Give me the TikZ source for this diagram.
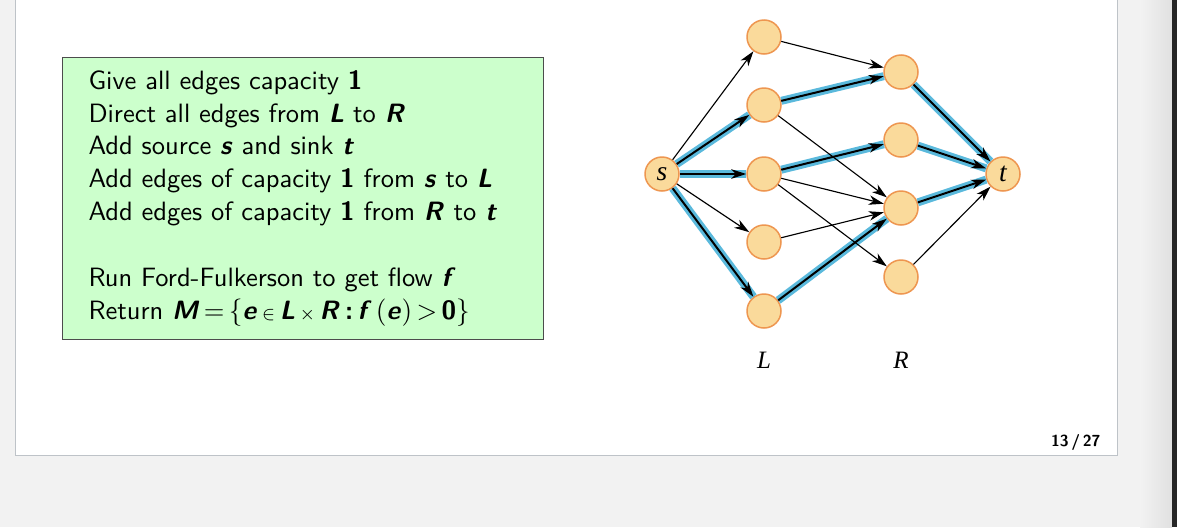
\documentclass[tikz,border=0pt]{standalone}
\usepackage{fontspec}
\newfontfamily\figfont{Liberation Serif}
\usetikzlibrary{arrows.meta,positioning}

\definecolor{screen}{RGB}{242,242,242}
\definecolor{slideline}{RGB}{190,195,200}
\definecolor{boxfill}{RGB}{204,255,204}
\definecolor{nodefill}{RGB}{250,218,155}
\definecolor{nodeline}{RGB}{238,150,80}
\definecolor{flowblue}{RGB}{90,185,220}

\newcommand{\bv}[1]{\textbf{\textit{#1}}}

\tikzset{
  vert/.style={circle, draw=nodeline, fill=nodefill, line width=0.6pt,
    minimum size=13.6pt, inner sep=0pt, font=\figfont\itshape\fontsize{11}{11}\selectfont},
  edge/.style={-{Stealth[length=6pt,width=3.8pt,inset=1.8pt]}, line width=0.45pt},
  match/.style={edge, line width=0.8pt,
    preaction={draw=flowblue, line width=3.2pt, arrows=-}},
  line/.style={anchor=base west, inner sep=0pt, font=\sffamily\fontsize{10.6}{12}\selectfont},
  setlabel/.style={inner sep=0pt, font=\figfont\itshape\fontsize{10}{10}\selectfont},
}

\begin{document}
\begin{tikzpicture}[x=0.4pt, y=-0.4pt]
\useasboundingbox (0,0) rectangle (1177,527);

% screen and slide
\fill[screen] (0,0) rectangle (1177,527);
\shade[left color=screen, right color=black!12] (1140,0) rectangle (1172,527);
\fill[black!85] (1172,0) rectangle (1177,527);
\draw[slideline, fill=white] (15,-5) rectangle (1117,455);

% algorithm box
\node[draw=black!70, fill=boxfill, line width=0.4pt, minimum width=192.4pt,
  minimum height=112.8pt, anchor=north west] (algo) at (62,57) {};

\node[line] (a1) at (88, 89) {Give all edges capacity \textbf{1}};
\node[line] (a2) at (88, 122) {Direct all edges from \bv{L} to \bv{R}};
\node[line] (a3) at (88, 154) {Add source \bv{s} and sink \bv{t}};
\node[line] (a4) at (88, 187) {Add edges of capacity \textbf{1} from \bv{s} to \bv{L}};
\node[line] (a5) at (88, 220) {Add edges of capacity \textbf{1} from \bv{R} to \bv{t}};
\node[line] (a6) at (88, 286) {Run Ford-Fulkerson to get flow \bv{f}};
\node[line] (a7) at (88, 319) {Return \bv{M}\,=\,$\{$\bv{e}\,$\scriptstyle\in$\,\bv{L}\,$\scriptstyle\times$\,\bv{R}\,\textbf{:}\,\bv{f}\,$($\bv{e}$)$\,>\,\textbf{0}$\}$};

% flow network
\node[vert] (s) at (662,174) {s};
\node[vert] (l1) at (764,37) {};
\node[vert] (l2) at (764,105) {};
\node[vert] (l3) at (764,174) {};
\node[vert] (l4) at (764,242) {};
\node[vert] (l5) at (764,311) {};
\node[vert] (r1) at (901,72) {};
\node[vert] (r2) at (901,140) {};
\node[vert] (r3) at (901,208) {};
\node[vert] (r4) at (901,277) {};
\node[vert] (t) at (1003,174) {t};

\node[setlabel] (lname) at (764,360) {L};
\node[setlabel] (rname) at (901,360) {R};

% matched edges
\draw[match] (s) -- (l2);
\draw[match] (s) -- (l3);
\draw[match] (s) -- (l5);
\draw[match] (l2) -- (r1);
\draw[match] (l3) -- (r2);
\draw[match] (l5) -- (r3);
\draw[match] (r1) -- (t);
\draw[match] (r2) -- (t);
\draw[match] (r3) -- (t);

% other edges
\draw[edge] (s) -- (l1);
\draw[edge] (s) -- (l4);
\draw[edge] (l1) -- (r1);
\draw[edge] (l2) -- (r3);
\draw[edge] (l3) -- (r3);
\draw[edge] (l3) -- (r4);
\draw[edge] (l4) -- (r3);
\draw[edge] (r4) -- (t);

\node[anchor=base east, inner sep=0pt, font=\sffamily\bfseries\fontsize{6.4}{7}\selectfont]
  (page) at (1101,446) {13\,/\,27};

\end{tikzpicture}
\end{document}
